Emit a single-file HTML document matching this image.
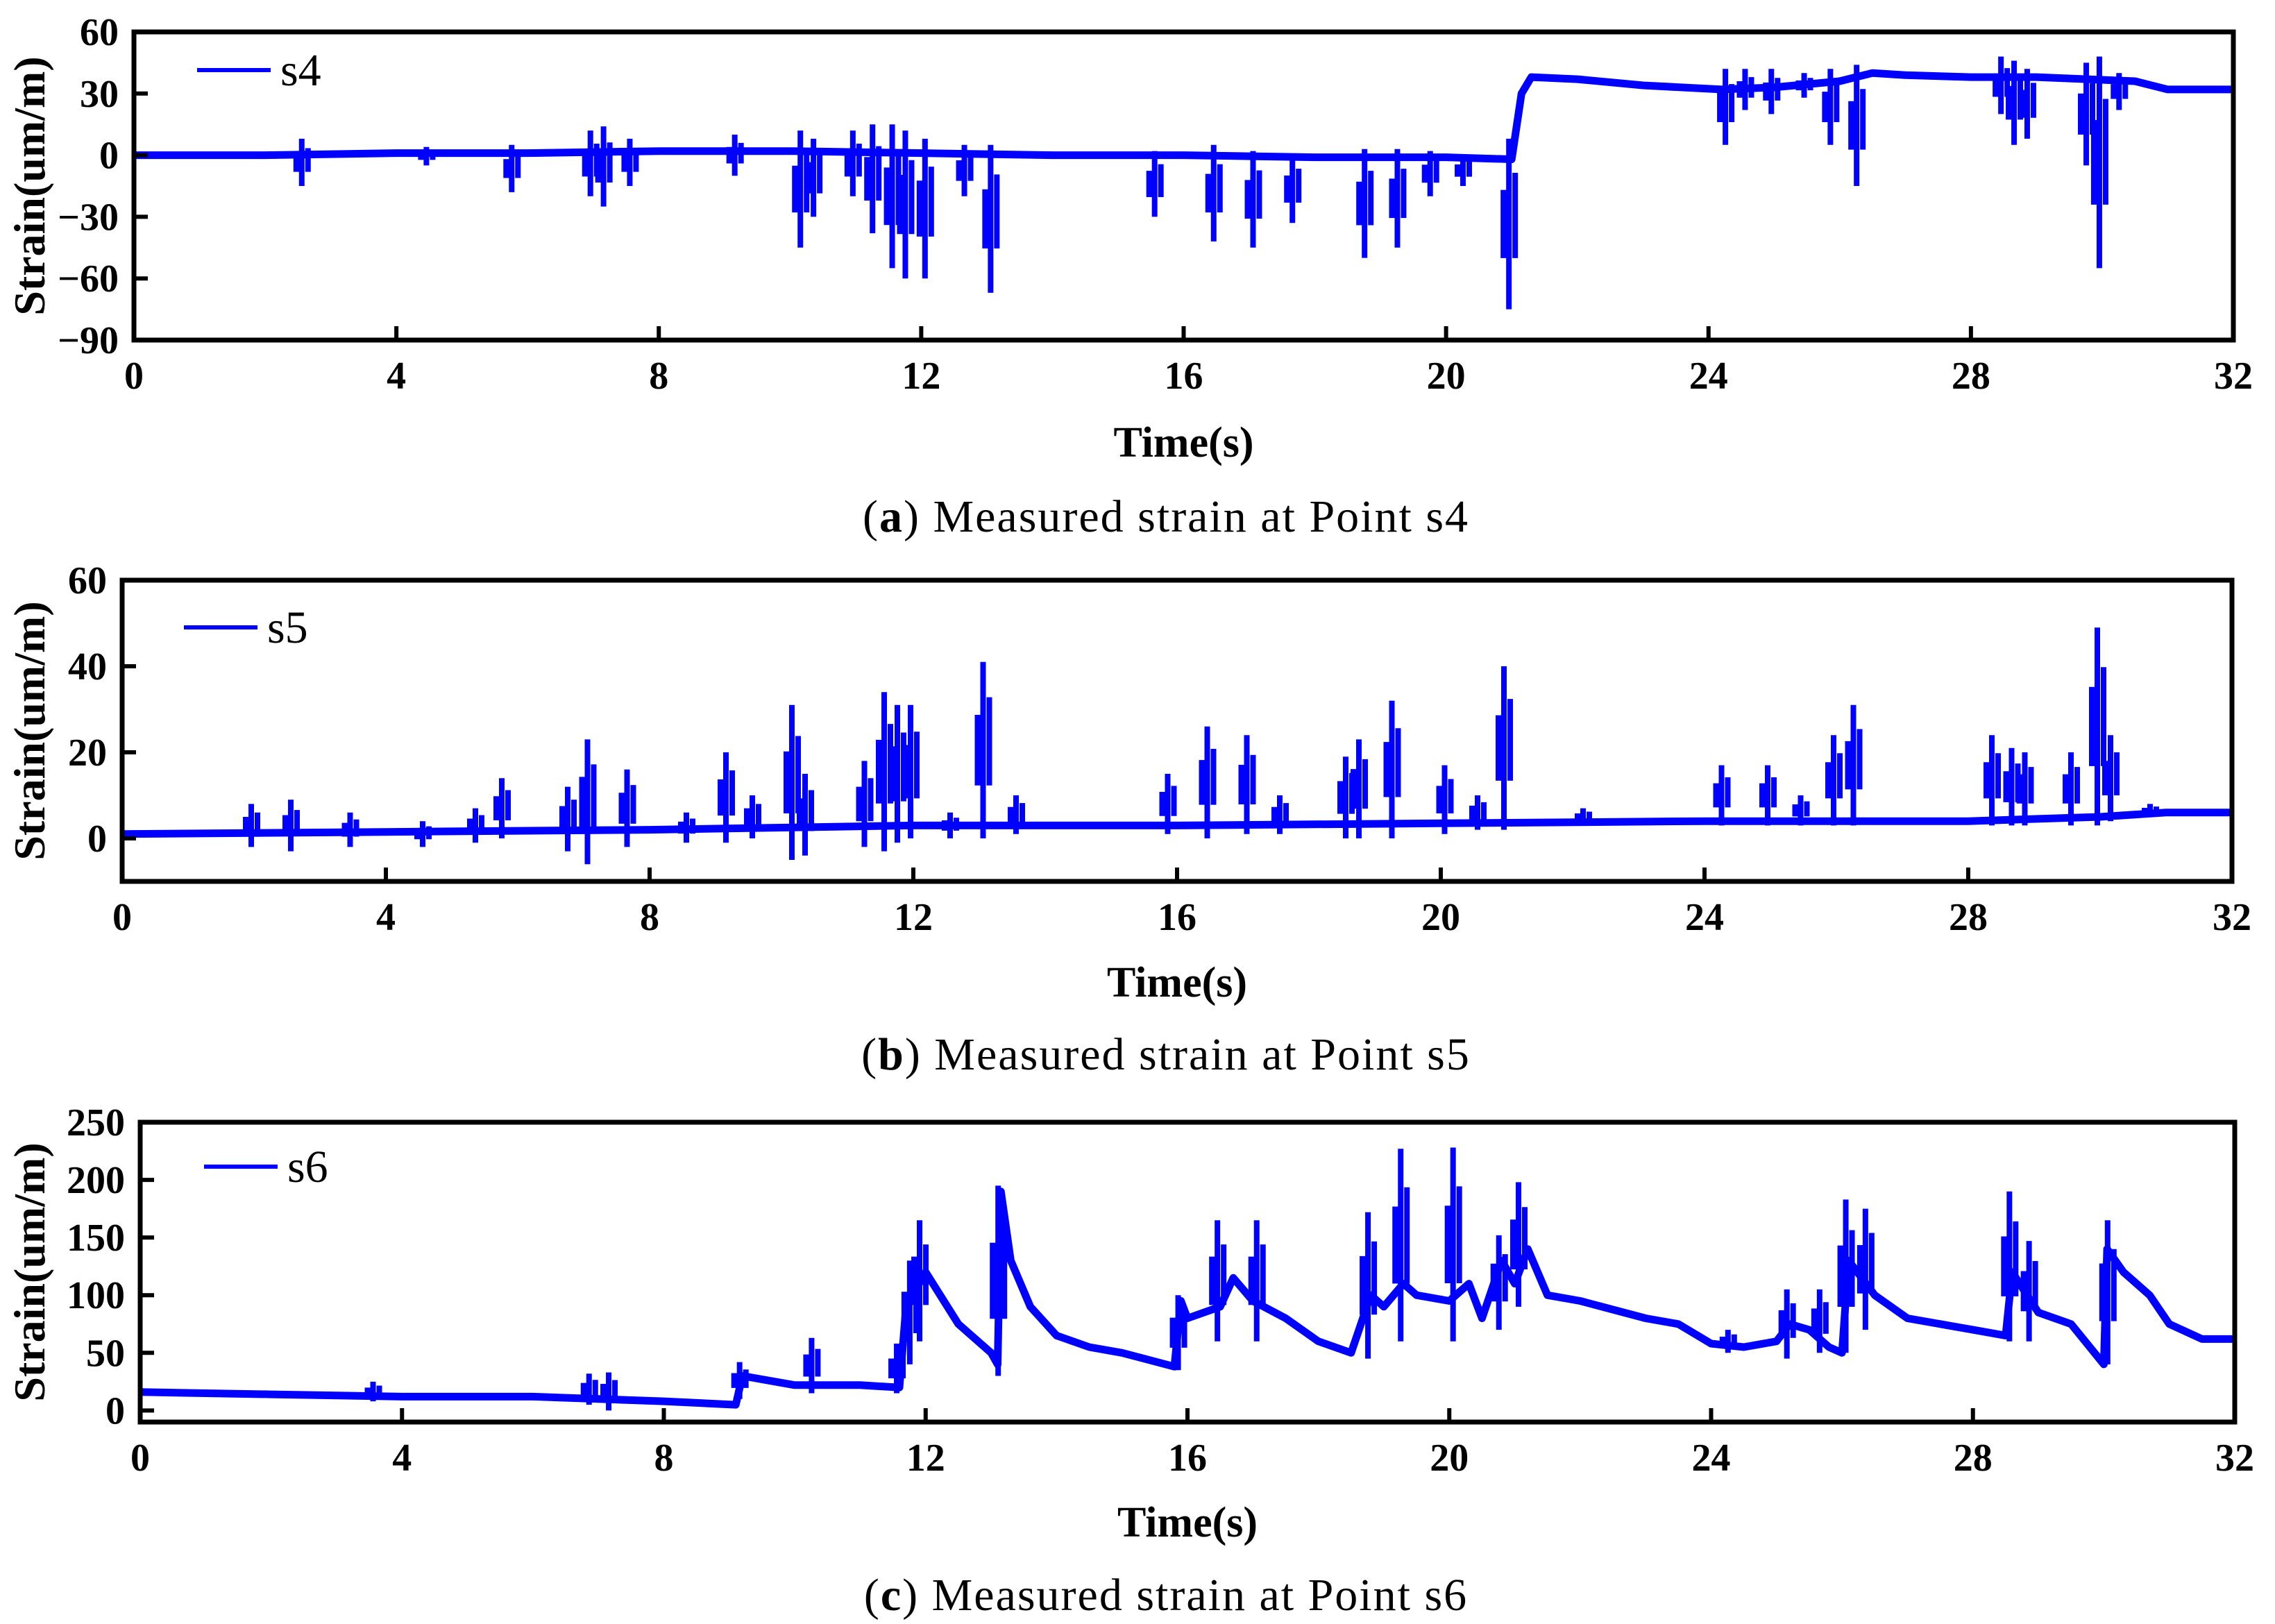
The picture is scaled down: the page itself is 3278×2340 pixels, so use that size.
<!DOCTYPE html>
<html><head><meta charset="utf-8"><style>
html,body{margin:0;padding:0;background:#fff;}
svg{display:block;}
text{font-family:"Liberation Serif",serif;fill:#000;}
.tick{font-size:56px;font-weight:bold;}
.atitle{font-size:62px;font-weight:bold;}
.ytitle{font-size:64px;font-weight:bold;}
.cap{font-size:66px;letter-spacing:2px;}
.leg{font-size:66px;}
</style></head><body>
<svg id="fig" width="3278" height="2340" viewBox="0 0 3278 2340" xmlns="http://www.w3.org/2000/svg"></svg>
<script>
// ---- panel a (s4) data ----
const s4BaseT = [0,2,4,6,8,10,12,14,16,18,20,21.0,21.15,21.3,22,23,24.2,25,26,26.5,27,28,29,30.5,31,32];
const s4BaseV = [0,0,1,1,2,2,1,0,0,-1,-1,-2,30,38,37,34,32,33,36,40,39,38,38,36,32,32];
const s4SpikeT = [2.6,4.5,5.8,7.0,7.2,7.6,9.2,10.2,10.4,11.0,11.3,11.6,11.8,12.1,12.7,13.1,15.6,16.5,17.1,17.7,18.8,19.3,19.8,20.3,21.0,24.3,24.6,25.0,25.5,25.9,26.3,28.5,28.7,28.9,29.8,30.0,30.3];
const s4SpikeLo = [-15,-5,-18,-20,-25,-15,-10,-45,-30,-20,-38,-55,-60,-60,-20,-67,-30,-42,-45,-33,-50,-45,-20,-15,-75,5,22,20,28,5,-15,20,5,8,-5,-55,22];
const s4SpikeHi = [8,4,5,12,14,8,10,12,8,12,15,15,12,8,5,5,2,5,2,0,3,3,2,0,8,42,42,42,40,42,44,48,46,42,45,48,40];
// ---- panel b (s5) data ----
const s5BaseT = [0,4,8,10,12,16,20,24,28,30,31,32];
const s5BaseV = [1,1.5,2,2.5,3,3,3.5,4,4,5,6,6];
const s5SpikeT = [2.0,2.6,3.5,4.6,5.4,5.8,6.8,7.1,7.7,8.6,9.2,9.6,10.2,10.4,11.3,11.6,11.8,12.0,12.6,13.1,13.6,15.9,16.5,17.1,17.6,18.6,18.8,19.3,20.1,20.6,21.0,22.2,24.3,25.0,25.5,26.0,26.3,28.4,28.7,28.9,29.6,30.0,30.2,30.8];
const s5SpikeHi = [8,9,6,4,7,14,12,23,16,6,20,10,31,15,18,34,31,31,6,41,10,15,26,24,10,19,23,32,17,10,40,7,17,17,10,24,31,24,21,20,20,49,24,8];
const s5SpikeLo = [-2,-3,-2,-2,-1,0,-3,-6,-2,-1,-1,0,-5,-4,-2,-3,-1,0,0,0,1,1,0,1,1,0,0,0,1,2,2,3,3,3,3,3,3,3,3,3,3,3,4,5];
// ---- panel c (s6) data ----
const s6BaseT = [0,2,4,6,8,9.1,9.2,10,11,11.6,11.7,12,12.5,13,13.1,13.15,13.3,13.6,14,14.5,15,15.8,15.9,16,16.5,16.7,17,17.5,18,18.5,18.8,19,19.3,19.5,20,20.3,20.5,20.8,21,21.2,21.5,22,23,23.5,24,24.5,25,25.2,25.5,25.8,26,26.1,26.5,27,28,28.5,28.6,29,29.5,30,30.05,30.3,30.7,31,31.5,32];
const s6BaseV = [16,14,12,12,8,5,30,22,22,20,90,120,75,50,40,190,130,90,65,55,50,38,95,80,90,115,95,80,60,50,100,90,110,100,95,110,80,130,110,140,100,95,80,75,58,55,60,75,70,55,50,130,100,80,70,65,120,85,75,40,140,120,100,75,62,62];
const s6SpikeT = [3.6,6.9,7.2,9.2,10.3,11.6,11.8,11.95,13.15,15.9,16.5,17.1,18.8,19.3,20.1,20.8,21.1,24.3,25.2,25.7,26.1,26.4,28.6,28.9,30.1];
const s6SpikeHi = [25,32,33,42,63,58,130,165,195,100,165,165,172,227,228,152,198,70,105,105,183,175,190,147,165];
const s6SpikeLo = [8,5,0,10,15,15,40,60,30,35,60,60,45,60,60,70,90,50,45,50,50,70,60,60,40];

const xTicks = [0,4,8,12,16,20,24,28,32];
const aTicks = [60,30,0,-30,-60,-90];
const bTicks = [60,40,20,0];
const cTicks = [250,200,150,100,50,0];

const NS = "http://www.w3.org/2000/svg";
const svg = document.getElementById('fig');
function mk(tag, attrs, parent){ const e=document.createElementNS(NS,tag); for(const k in attrs) e.setAttribute(k,attrs[k]); (parent||svg).appendChild(e); return e; }

function panel(cfg){
  const g = mk('g',{});
  
  
  const L=cfg.L,R=cfg.R,T=cfg.T,B=cfg.B;
  const xs = t => L + (t-0)/(32-0)*(R-L);
  const ys = v => B - (v-cfg.ymin)/(cfg.ymax-cfg.ymin)*(B-T);
  const sg = mk('g',{},g);
  
  
  let d='';
  cfg.bt.forEach((t,i)=>{ d += (i?'L':'M')+xs(t).toFixed(1)+' '+ys(cfg.bv[i]).toFixed(1); });
  const base = mk('path',{d:d,fill:'none',stroke:'#0000ff','stroke-width':11,'stroke-linejoin':'round'},sg);
  
  
  cfg.st.forEach((t,i)=>{
    const x=xs(t);
    const p = mk('path',{d:'M'+(x-4)+' '+ys(cfg.sl[i])+'L'+(x-4)+' '+ys(cfg.sh[i])+'M'+(x+5)+' '+ys(cfg.sl[i]*0.7+cfg.sh[i]*0.3)+'L'+(x+5)+' '+ys(cfg.sh[i]*0.8+cfg.sl[i]*0.2)+'M'+(x-12)+' '+ys(cfg.sl[i]*0.3+cfg.sh[i]*0.7)+'L'+(x-12)+' '+ys(cfg.sh[i]*0.3+cfg.sl[i]*0.7),fill:'none',stroke:'#0000ff','stroke-width':8},sg);
    
    
  });
  const fr = mk('rect',{x:L,y:T,width:R-L,height:B-T,fill:'none',stroke:'#000','stroke-width':7},g);
  
  
  xTicks.forEach(t=>{
    const x=xs(t);
    const tk = mk('line',{x1:x,x2:x,y1:B,y2:B-20,stroke:'#000','stroke-width':6},g);
    
    
    const tx = mk('text',{x:x,y:B+70,'text-anchor':'middle',class:'tick'},g);
    tx.textContent = t;
    
    
  });
  cfg.yt.forEach(v=>{
    const y=ys(v);
    const tk = mk('line',{x1:L,x2:L+20,y1:y,y2:y,stroke:'#000','stroke-width':6},g);
    
    
    const tx = mk('text',{x:L-22,y:y+19,'text-anchor':'end',class:'tick'},g);
    tx.textContent = String(v).replace('-','\u2212');
    
    
  });
  const xt = mk('text',{x:(L+R)/2,y:cfg.xtY,'text-anchor':'middle',class:'atitle'},g);
  xt.textContent='Time(s)';
  
  
  const cy=(T+B)/2;
  const yt = mk('text',{x:64,y:cy,'text-anchor':'middle',class:'ytitle',transform:'rotate(-90 64 '+cy+')'},g);
  yt.textContent='Strain(um/m)';
  
  
  const lg = mk('g',{},g);
  
  
  mk('line',{x1:cfg.lx,x2:cfg.lx+106,y1:cfg.ly,y2:cfg.ly,stroke:'#0000ff','stroke-width':6},lg);
  const lt = mk('text',{x:cfg.lx+120,y:cfg.ly+22,class:'leg'},lg);
  lt.textContent=cfg.name;
  const cp = mk('text',{x:1680,y:cfg.capY,'text-anchor':'middle',class:'cap'},g);
  cp.innerHTML='(<tspan font-weight="bold">'+cfg.letter+'</tspan>) Measured strain at Point '+cfg.name;
  
  
}

panel({id:'panel-a',name:'s4',letter:'a',L:193,R:3218,T:46,B:490,ymin:-90,ymax:60,yt:aTicks,bt:s4BaseT,bv:s4BaseV,st:s4SpikeT,sl:s4SpikeLo,sh:s4SpikeHi,xtY:658,capY:766,lx:284,ly:101});
panel({id:'panel-b',name:'s5',letter:'b',L:176,R:3216,T:836,B:1270,ymin:-10,ymax:60,yt:bTicks,bt:s5BaseT,bv:s5BaseV,st:s5SpikeT,sl:s5SpikeLo,sh:s5SpikeHi,xtY:1436,capY:1541,lx:265,ly:904});
panel({id:'panel-c',name:'s6',letter:'c',L:202,R:3220,T:1617,B:2049,ymin:-10,ymax:250,yt:cTicks,bt:s6BaseT,bv:s6BaseV,st:s6SpikeT,sl:s6SpikeLo,sh:s6SpikeHi,xtY:2214,capY:2320,lx:294,ly:1681});
</script>
</body></html>
